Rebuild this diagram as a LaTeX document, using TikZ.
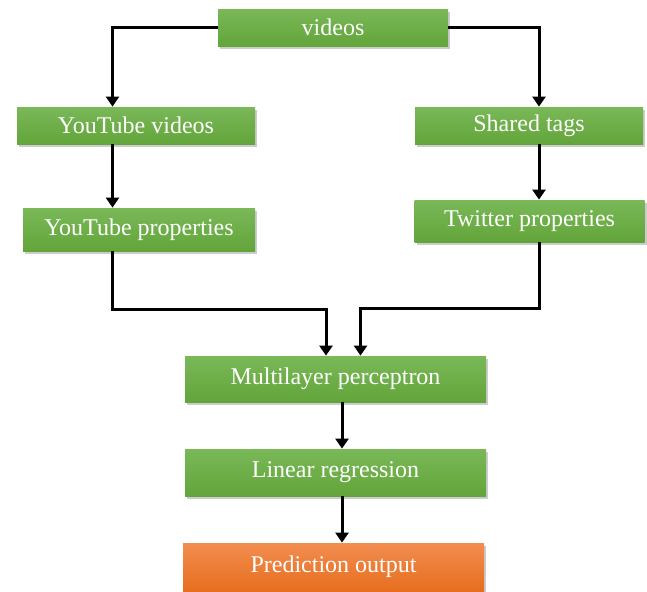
\documentclass[tikz,border=0pt]{standalone}
\usepackage{fontspec}
\setmainfont{Liberation Serif}
\usetikzlibrary{arrows.meta}
\usetikzlibrary{shadows}
\definecolor{greentop}{HTML}{7AB858}
\definecolor{greenbot}{HTML}{62A53A}
\definecolor{orangetop}{HTML}{F28D50}
\definecolor{orangebot}{HTML}{E76E1E}

\begin{document}
\begin{tikzpicture}[x=0.5pt, y=-0.5pt, % one unit is one pixel of the sketch, y runs down
                    box/.style = {rectangle, text=white, font=\fontsize{12}{14}\selectfont,
                                  top color=greentop, bottom color=greenbot, draw=none,
                                  drop shadow={shadow xshift=1.2pt, shadow yshift=-1.6pt, opacity=0.4}},
                    outbox/.style = {box, top color=orangetop, bottom color=orangebot},
                    arr/.style = {line width=1.5pt, -{Triangle[width=6.5pt,length=5pt]}},
                    every node/.style = {inner sep=1pt}
                   ]
  \useasboundingbox (0,0) rectangle (647,591);

  \node[box, minimum width=115pt, minimum height=18.5pt] (vid)  at (333,27.5)  {videos};
  \node[box, minimum width=119pt, minimum height=18.5pt] (ytv)  at (136,125.5) {YouTube videos};
  \node[box, minimum width=114pt, minimum height=18.5pt] (tags) at (529,125.5) {Shared tags};
  \node[box, minimum width=116pt, minimum height=21.5pt] (ytp)  at (139,229.5) {YouTube properties};
  \node[box, minimum width=115pt, minimum height=21pt]   (twp)  at (529.5,221) {Twitter properties};
  \node[box, minimum width=150.5pt, minimum height=23pt] (mlp)  at (335.5,379) {Multilayer perceptron};
  \node[box, minimum width=150.5pt, minimum height=23.5pt] (lr) at (335.5,472.5) {Linear regression};
  \node[outbox, minimum width=150.5pt, minimum height=24pt] (pred) at (333.5,567) {Prediction output};

  % split from the top box
  \draw[arr] (vid.west) -| ([xshift=-11.75pt]ytv.north);
  \draw[arr] (vid.east) -| ([xshift=5pt]tags.north);
  \draw[arr] ([xshift=-11.75pt]ytv.south) -- ([xshift=-13.25pt]ytp.north);
  \draw[arr] ([xshift=5pt]tags.south) -- ([xshift=4.75pt]twp.north);

  % join into the perceptron
  \draw[arr] ([xshift=-13.25pt]ytp.south) -- ++(0,58) -| ([xshift=-4.75pt]mlp.north);
  \draw[arr] ([xshift=4.75pt]twp.south) -- ++(0,66) -| ([xshift=12.5pt]mlp.north);

  \draw[arr] ([xshift=3.25pt]mlp.south) -- ([xshift=3.25pt]lr.north);
  \draw[arr] ([xshift=3.25pt]lr.south) -- ([xshift=4.25pt]pred.north);
\end{tikzpicture}
\end{document}
